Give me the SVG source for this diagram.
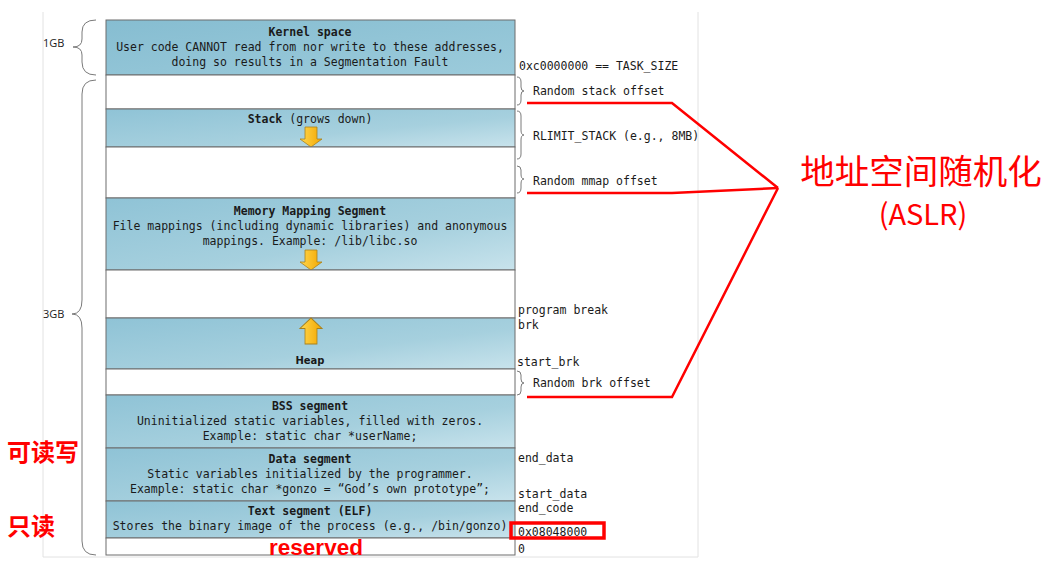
<svg xmlns="http://www.w3.org/2000/svg" width="1059" height="572" viewBox="0 0 1059 572">
  <defs>
    <linearGradient id="seg" x1="0" y1="0" x2="1" y2="1">
      <stop offset="0" stop-color="#8fc3d6"/>
      <stop offset="0.6" stop-color="#a6d0de"/>
      <stop offset="1" stop-color="#c8e3ec"/>
    </linearGradient>
    <linearGradient id="kern" x1="0" y1="0" x2="1" y2="1">
      <stop offset="0" stop-color="#86bdd1"/>
      <stop offset="1" stop-color="#9ccbdb"/>
    </linearGradient>
    <linearGradient id="arw" x1="0" y1="0" x2="1" y2="0">
      <stop offset="0" stop-color="#ffd84f"/>
      <stop offset="1" stop-color="#f3a600"/>
    </linearGradient>
    <path id="down" d="M-6,0 h12 v12 h5 l-11,8 l-11,-8 h5 z"/>
  </defs>
  <style>
    .box { stroke: #6c6c6c; stroke-width: 1; }
    .blue { fill: url(#seg); }
    .white { fill: #ffffff; }
    .t { font-family: "DejaVu Sans Mono", "Liberation Mono", monospace; font-size: 11.5px; fill: #1a1a1a; }
    .c { text-anchor: middle; }
    .b { font-weight: bold; }
    .brace { fill: none; stroke: #7a7a7a; stroke-width: 1; }
    .arrow { fill: url(#arw); stroke: #a8801c; stroke-width: 0.8; }
    .red { fill: none; stroke: #ff0000; stroke-width: 2.5; }
    .rt { font-family: "Noto Sans CJK SC", "Noto Sans", sans-serif; fill: #ff0000; }
  </style>

  <!-- light frame -->
  <path d="M43,12 V557 H698 V12" fill="none" stroke="#e2e2e2" stroke-width="1"/>

  <!-- size braces on the left -->
  <g id="size-1gb">
    <path class="brace" d="M96,20 q-14,0 -14,12 v7 q0,8 -9,8 q9,0 9,8 v7 q0,13 14,13"/>
    <text class="t" x="43" y="47" style="font-family:'Open Sans','Liberation Sans',sans-serif;font-size:11px">1GB</text>
  </g>
  <g id="size-3gb">
    <path class="brace" d="M96,80 q-14,0 -14,14 v206 q0,14 -10,14 q10,0 10,14 v213 q0,14 14,14"/>
    <text class="t" x="43" y="318" style="font-family:'Open Sans','Liberation Sans',sans-serif;font-size:11px">3GB</text>
  </g>

  <!-- address space segments -->
  <g id="kernel">
    <rect class="box" x="106" y="20" width="409" height="55" fill="url(#kern)"/>
    <text class="t c b" x="310" y="36">Kernel space</text>
    <text class="t c" x="310" y="51">User code CANNOT read from nor write to these addresses,</text>
    <text class="t c" x="310" y="66">doing so results in a Segmentation Fault</text>
  </g>
  <g id="gap-stack-offset">
    <rect class="box white" x="106" y="75" width="409" height="34"/>
  </g>
  <g id="stack">
    <rect class="box blue" x="106" y="109" width="409" height="38"/>
    <text class="t c" x="310" y="123"><tspan class="b">Stack</tspan> (grows down)</text>
    <use href="#down" class="arrow" x="311" y="127"/>
  </g>
  <g id="gap-mmap-offset">
    <rect class="box white" x="106" y="147" width="409" height="51"/>
  </g>
  <g id="mmap">
    <rect class="box blue" x="106" y="198" width="409" height="72"/>
    <text class="t c b" x="310" y="215">Memory Mapping Segment</text>
    <text class="t c" x="310" y="230">File mappings (including dynamic libraries) and anonymous</text>
    <text class="t c" x="310" y="245">mappings. Example: /lib/libc.so</text>
    <use href="#down" class="arrow" x="311" y="250"/>
  </g>
  <g id="gap-free">
    <rect class="box white" x="106" y="270" width="409" height="48"/>
  </g>
  <g id="heap">
    <rect class="box blue" x="106" y="318" width="409" height="51"/>
    <use href="#down" class="arrow" transform="translate(311,344) scale(1,-1.3)"/>
    <text class="c b" x="310" y="364" style="font-family:'DejaVu Sans',sans-serif;font-size:10px;fill:#1a1a1a">Heap</text>
  </g>
  <g id="gap-brk-offset">
    <rect class="box white" x="106" y="369" width="409" height="26"/>
  </g>
  <g id="bss">
    <rect class="box blue" x="106" y="395" width="409" height="53"/>
    <text class="t c b" x="310" y="410">BSS segment</text>
    <text class="t c" x="310" y="425">Uninitialized static variables, filled with zeros.</text>
    <text class="t c" x="310" y="440">Example: static char *userName;</text>
  </g>
  <g id="data">
    <rect class="box blue" x="106" y="448" width="409" height="53"/>
    <text class="t c b" x="310" y="463">Data segment</text>
    <text class="t c" x="310" y="478">Static variables initialized by the programmer.</text>
    <text class="t c" x="310" y="493">Example: static char *gonzo = “God’s own prototype”;</text>
  </g>
  <g id="text-seg">
    <rect class="box blue" x="106" y="501" width="409" height="37"/>
    <text class="t c b" x="310" y="515">Text segment (ELF)</text>
    <text class="t c" x="310" y="530">Stores the binary image of the process (e.g., /bin/gonzo)</text>
  </g>
  <g id="reserved">
    <rect class="box white" x="106" y="538" width="409" height="17"/>
    <text x="316" y="555" text-anchor="middle" style="font-family:'Liberation Sans',sans-serif;font-weight:bold;font-size:22.5px;fill:#ff0000">reserved</text>
  </g>

  <!-- small braces on the right -->
  <g id="offset-braces">
    <path class="brace" d="M517,77 q4,0 4,5 v5 q0,4 3,4 q-3,0 -3,4 v5 q0,5 -4,5"/>
    <path class="brace" d="M517,111 q4,0 4,5 v14 q0,5 3,5 q-3,0 -3,5 v14 q0,5 -4,5"/>
    <path class="brace" d="M517,166 q4,0 4,4 v4 q0,5 3,5 q-3,0 -3,5 v4 q0,5 -4,5"/>
    <path class="brace" d="M517,371 q4,0 4,4 v4 q0,4 3,4 q-3,0 -3,4 v4 q0,4 -4,4"/>
  </g>

  <!-- address labels -->
  <g id="labels">
    <text class="t" x="519" y="70">0xc0000000 == TASK_SIZE</text>
    <text class="t" x="533" y="95">Random stack offset</text>
    <text class="t" x="533" y="140">RLIMIT_STACK (e.g., 8MB)</text>
    <text class="t" x="533" y="185">Random mmap offset</text>
    <text class="t" x="518" y="314">program break</text>
    <text class="t" x="518" y="329">brk</text>
    <text class="t" x="517" y="366">start_brk</text>
    <text class="t" x="533" y="387">Random brk offset</text>
    <text class="t" x="518" y="462">end_data</text>
    <text class="t" x="518" y="498">start_data</text>
    <text class="t" x="518" y="512">end_code</text>
    <text class="t" x="518" y="536">0x08048000</text>
    <text class="t" x="518" y="553">0</text>
  </g>

  <!-- ASLR annotation lines -->
  <g id="connectors">
    <polyline class="red" points="527,103 672,103 778,188"/>
    <polyline class="red" points="527,193 672,193 778,188"/>
    <polyline class="red" points="527,397 672,397 778,188"/>
    <rect x="511" y="523" width="93" height="15" fill="none" stroke="#ff0000" stroke-width="3.5"/>
  </g>

  <g id="aslr">
    <text class="rt" x="921" y="184" text-anchor="middle" style="font-size:34.5px">地址空间随机化</text>
    <text class="rt" x="923" y="225" text-anchor="middle" style="font-size:29px">(ASLR)</text>
  </g>
  <g id="rw-label">
    <text class="rt" x="7" y="461" style="font-size:24px;font-weight:bold">可读写</text>
  </g>
  <g id="ro-label">
    <text class="rt" x="7" y="535" style="font-size:24px;font-weight:bold">只读</text>
  </g>
</svg>
